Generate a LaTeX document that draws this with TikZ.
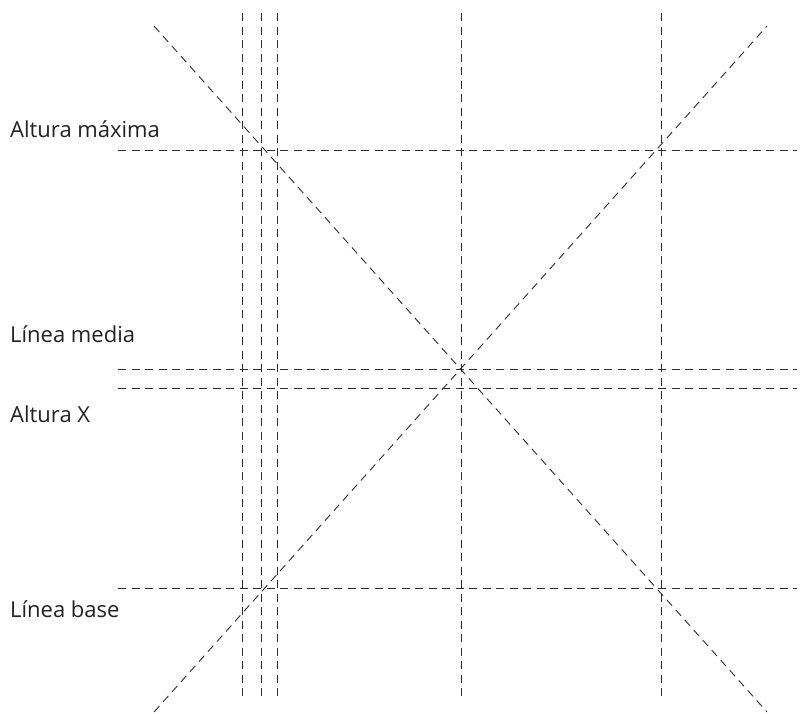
\documentclass[tikz,border=0pt]{standalone}
\usepackage{fontspec}
\setmainfont{Open Sans}
\usepackage{xcolor}
\definecolor{guidegrey}{RGB}{45,45,45}
\definecolor{labelgrey}{RGB}{35,35,35}

\begin{document}
\begin{tikzpicture}[x=1pt, y=-1pt,
    guide/.style={draw=guidegrey, line width=0.9pt, dash pattern=on 8pt off 5.5pt},
    lbl/.style={anchor=base west, inner sep=0pt, font=\fontsize{22}{26}\selectfont, text=labelgrey}
]
    \useasboundingbox (0,0) rectangle (800,713);

    % vertical guides
    \foreach \gx in {242, 261, 277, 461, 661}
        \draw[guide] (\gx,13) -- (\gx,698);

    % horizontal guides
    \foreach \gy in {150, 369, 388, 588}
        \draw[guide] (118,\gy) -- (797,\gy);

    % diagonals
    \draw[guide] (154,26)  -- (767,712);
    \draw[guide] (154,712) -- (767,26);

    \node[lbl] (cap)  at (10,137) {Altura máxima};
    \node[lbl] (mid)  at (10,342) {Línea media};
    \node[lbl] (xht)  at (10,422) {Altura X};
    \node[lbl] (base) at (10,617) {Línea base};
\end{tikzpicture}
\end{document}
